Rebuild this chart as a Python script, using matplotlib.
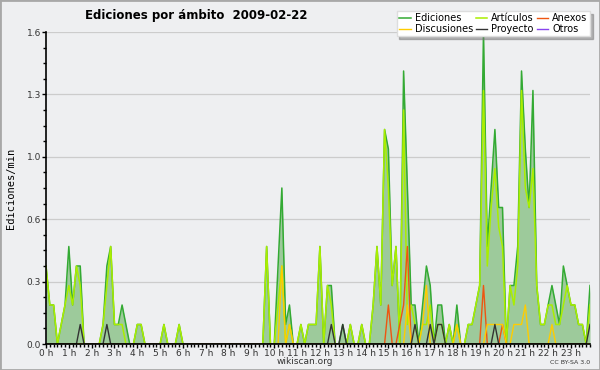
import matplotlib
matplotlib.use('Agg')
import matplotlib.pyplot as plt
from matplotlib.patches import Rectangle
import numpy as np

# edits per 10-minute slot, one row per hour (value shown = count / 10 per min)
ediciones = [4, 2, 2, 0, 1, 2,  5, 2, 4, 4, 0, 0,  0, 0, 0, 1, 4, 5,  1, 1, 2, 1, 0, 0,
             1, 1, 0, 0, 0, 0,  0, 1, 0, 0, 0, 1,  0, 0, 0, 0, 0, 0,  0, 0, 0, 0, 0, 0,
             0, 0, 0, 0, 0, 0,  0, 0, 0, 0, 5, 0,  0, 4, 8, 1, 2, 0,  0, 1, 0, 1, 1, 1,
             5, 0, 3, 3, 0, 0,  1, 0, 1, 0, 0, 1,  0, 0, 2, 5, 2, 11, 10, 3, 5, 0, 14, 8,
             2, 2, 0, 2, 4, 3,  0, 2, 2, 0, 1, 0,  2, 0, 0, 1, 1, 2,  3, 16, 5, 8, 11, 7,
             7, 0, 3, 3, 5, 14, 10, 7, 13, 3, 1, 1, 2, 3, 2, 1, 4, 3,  2, 2, 1, 1, 0, 3]
articulos = [4, 2, 2, 0, 1, 2,  3, 2, 4, 3, 0, 0,  0, 0, 0, 1, 3, 5,  1, 1, 1, 0, 0, 0,
             1, 1, 0, 0, 0, 0,  0, 1, 0, 0, 0, 1,  0, 0, 0, 0, 0, 0,  0, 0, 0, 0, 0, 0,
             0, 0, 0, 0, 0, 0,  0, 0, 0, 0, 5, 0,  0, 2, 4, 0, 1, 0,  0, 1, 0, 1, 1, 1,
             5, 0, 3, 2, 0, 0,  0, 0, 1, 0, 0, 1,  0, 0, 2, 5, 2, 11, 8, 3, 5, 0, 12, 1,
             2, 1, 0, 1, 1, 2,  0, 1, 1, 0, 1, 0,  1, 0, 0, 1, 1, 2,  3, 13, 4, 7, 9, 6,
             5, 0, 3, 2, 4, 13, 8, 7, 9, 3, 1, 1,  2, 2, 1, 1, 2, 3,  2, 2, 1, 1, 0, 2]
anexos_idx = [90, 93, 94, 95, 115, 120]
anexos_val = [2, 1, 2, 5, 3, 1]
discusiones_idx = [62, 64, 95, 99, 100, 108, 116, 117, 118, 119, 120, 123, 124, 125, 126, 133]
discusiones_val = [4, 1, 2, 1, 3, 1, 1, 1, 1, 1, 1, 1, 1, 1, 2, 1]
proyecto_idx = [9, 16, 75, 78, 97, 101, 103, 104, 118, 143]
proyecto_val = [1, 1, 1, 1, 1, 1, 1, 1, 1, 1]

hour_labels = ['%d h' % h for h in range(24)]
y_ticks = [0, 0.32, 0.64, 0.96, 1.28, 1.6]
y_labels = ['0.0', '0.3', '0.6', '1.0', '1.3', '1.6']

n = len(ediciones)
x = np.arange(n)

def series(idx, val):
    s = np.zeros(n)
    s[idx] = val
    return s / 10.0

ed = np.array(ediciones) / 10.0
ar = np.array(articulos) / 10.0
an = series(anexos_idx, anexos_val)
di = series(discusiones_idx, discusiones_val)
pr = series(proyecto_idx, proyecto_val)
ot = np.zeros(n)

bg = '#eeeff1'
fig = plt.figure(figsize=(6, 3.7), dpi=100, facecolor=bg)
ax = fig.add_axes([46/600, 1-344/370, 544/600, 312/370], facecolor=bg)

ax.fill_between(x, 0, ed, color='#9dca9b', lw=0, zorder=1)
ax.plot(x, ed, color='#33aa33', lw=1.1, zorder=2, label='Ediciones')
ax.plot(x, ar, color='#aaee00', lw=1.1, zorder=2.1, label='Artículos')
ax.plot(x, an, color='#ee5511', lw=1.0, zorder=2.2, label='Anexos')
ax.plot(x, di, color='#ffcc00', lw=1.0, zorder=2.2, label='Discusiones')
ax.plot(x, pr, color='#333333', lw=1.0, zorder=2.3, label='Proyecto')
ax.plot(x, ot, color='#8844ee', lw=1.0, zorder=2.0, label='Otros')

ax.set_xlim(0, n - 1)
ax.set_ylim(0, 1.6)
ax.set_xticks(np.arange(0, n, 6))
ax.set_xticklabels(hour_labels)
ax.set_xticks(np.arange(0, n), minor=True)
ax.set_yticks(y_ticks)
ax.set_yticklabels(y_labels)
ax.set_yticks(np.arange(0, 1.61, 0.08), minor=True)
ax.tick_params(axis='both', which='major', length=3, width=1, colors='black',
               labelsize=6.5, labelcolor='#333333', pad=0.5)
ax.tick_params(axis='both', which='minor', length=2, width=1, colors='black')
ax.yaxis.grid(True, color='#cccccc', lw=0.9)
ax.set_axisbelow(True)
for s in ['top', 'right']:
    ax.spines[s].set_visible(False)
for s in ['left', 'bottom']:
    ax.spines[s].set_linewidth(1.2)
    ax.spines[s].set_zorder(5)

h, l = ax.get_legend_handles_labels()
order = [0, 3, 1, 4, 2, 5]
leg = fig.legend([h[i] for i in order], [l[i] for i in order], ncol=3,
                 loc='upper right', bbox_to_anchor=(590/600, 1-11/370),
                 fontsize=7, frameon=True, fancybox=False, shadow={'color': '#777777'},
                 handlelength=1.2, handletextpad=0.4, columnspacing=0.3,
                 labelspacing=0.05, borderpad=0.25, borderaxespad=0)
leg.get_frame().set_facecolor('white')
leg.get_frame().set_edgecolor('#dddddd')
leg.get_frame().set_alpha(1)

fig.text(85/600, 1-15/370, 'Ediciones por ámbito  2009-02-22', fontsize=8.5,
         fontweight='bold', va='center', ha='left')
fig.text(11/600, 1-188/370, 'Ediciones/min', rotation=90, family='DejaVu Sans Mono',
         fontsize=7.5, va='center', ha='center')
fig.text(305/600, 1-362/370, 'wikiscan.org', fontsize=6.5, color='#333333',
         va='center', ha='center')
fig.text(590/600, 1-363/370, 'CC BY-SA 3.0', fontsize=4.5, color='#333333',
         va='center', ha='right')
fig.patches.append(Rectangle((0, 0), 1, 1, transform=fig.transFigure, fill=False,
                             edgecolor='#a8a8a8', lw=2))

fig.savefig('out.png', dpi=100, facecolor=bg)
